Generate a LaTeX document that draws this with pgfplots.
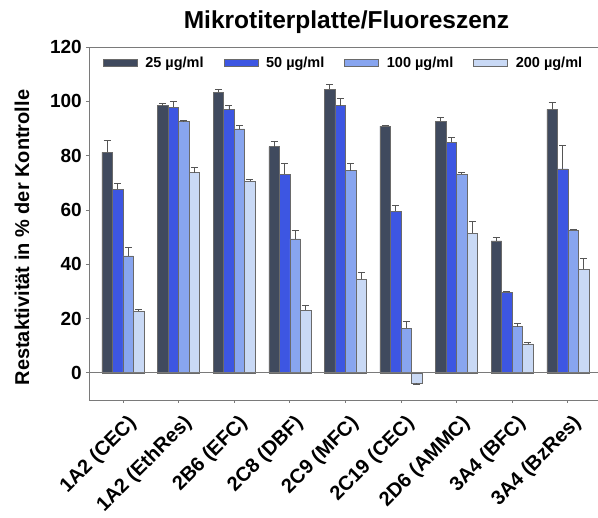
\documentclass[border=0pt]{standalone}
\usepackage{fontspec}
\setmainfont{Liberation Sans}
\usepackage{pgfplots}
\usepackage{pgfplotstable}
\pgfplotsset{compat=1.18}

\definecolor{c25}{HTML}{404A5E}
\definecolor{c50}{HTML}{3D56E2}
\definecolor{c100}{HTML}{88A5EF}
\definecolor{c200}{HTML}{C9D9F5}
\definecolor{edge}{HTML}{6A6A6A}
\definecolor{axisgray}{HTML}{7A7A7A}
\definecolor{errgray}{HTML}{555555}

% mean residual activity and upper error per enzyme/substrate, four concentrations
\pgfplotstableread{
x a ea b eb c ec d ed
0 81.2 4.3 67.7 1.9 43.1 3.2 22.7 0.7
1 98.4 0.8 97.8 2.2 92.5 0.4 73.7 2.0
2 103.3 1.0 96.9 1.5 89.8 1.2 70.5 0.7
3 83.3 2.1 73.1 4.2 49.3 3.1 23.1 1.9
4 104.5 1.6 98.4 2.7 74.5 2.5 34.5 2.6
5 90.9 0.4 59.5 2.0 16.4 2.7 -3.7 -0.7
6 92.7 1.2 84.9 1.8 73.1 0.8 51.4 4.3
7 48.6 1.2 29.6 0.5 17.0 1.3 10.7 0.6
8 97.0 2.6 75.1 8.6 52.5 0.5 38.2 3.8
}\data

\pgfplotsset{
  swatch/.style={legend image code/.code={%
    \draw[##1] (0pt,-3.5pt) rectangle (34pt,3.5pt);}},
}

\begin{document}
\begin{tikzpicture}
\begin{axis}[
  name=main, at={(0,0)}, anchor=south west,
  scale only axis, width=509pt, height=353pt,
  xmin=-0.611, xmax=8.543, ymin=-10, ymax=120,
  ybar=0pt, bar width=10.5pt,
  axis x line*=box, axis y line*=left,
  axis line style={draw=axisgray, line width=0.8pt},
  every tick/.style={draw=axisgray, line width=0.8pt},
  tick align=outside, major tick length=3pt,
  xtick pos=bottom, ytick pos=left,
  xtick={0,...,8},
  xticklabels={1A2 (CEC),1A2 (EthRes),2B6 (EFC),2C8 (DBF),2C9 (MFC),2C19 (CEC),2D6 (AMMC),3A4 (BFC),3A4 (BzRes)},
  ytick={0,20,...,120},
  /pgf/number format/assume math mode=true,
  xticklabel style={rotate=45, anchor=north east, inner sep=1pt, yshift=-9pt, xshift=-4pt, font=\bfseries\fontsize{20}{20}\selectfont},
  yticklabel style={font=\bfseries\fontsize{19}{19}\selectfont, inner sep=2pt, xshift=-2pt},
  ylabel={Restaktivität in \% der Kontrolle},
  ylabel style={at={(axis description cs:-0.1316,0.46)}, anchor=center, font=\bfseries\fontsize{20}{20}\selectfont},
  title={Mikrotiterplatte/Fluoreszenz},
  title style={at={(0.5,1)}, anchor=base, yshift=12pt, xshift=3pt, font=\bfseries\fontsize{24.5}{24.5}\selectfont},
  legend columns=4,
  legend style={at={(0.5,1)}, anchor=north, yshift=-6pt, draw=none, fill=none,
    font=\bfseries\fontsize{14.5}{14.5}\selectfont,
    /tikz/every odd column/.append style={column sep=6pt},
    /tikz/every even column/.append style={column sep=18pt}},
  error bars/y dir=plus, error bars/y explicit,
  error bars/error bar style={draw=errgray, line width=0.8pt},
  error bars/error mark options={draw=errgray, line width=0.8pt, mark size=3.5pt, rotate=90},
]
\addplot[fill=c25, draw=edge, line width=0.5pt, swatch] table[x=x, y=a, y error plus=ea] {\data};
\addplot[fill=c50, draw=edge, line width=0.5pt, swatch] table[x=x, y=b, y error plus=eb] {\data};
\addplot[fill=c100, draw=edge, line width=0.5pt, swatch] table[x=x, y=c, y error plus=ec] {\data};
\addplot[fill=c200, draw=edge, line width=0.5pt, swatch] table[x=x, y=d, y error plus=ed] {\data};
\legend{25 µg/ml, 50 µg/ml, 100 µg/ml, 200 µg/ml}
\draw[axisgray, line width=0.8pt] (axis cs:-0.611,0) -- (axis cs:8.543,0);
\end{axis}
\pgfresetboundingbox
\path[use as bounding box] (-89pt,-118pt) rectangle (509pt,400pt);
\end{tikzpicture}
\end{document}
